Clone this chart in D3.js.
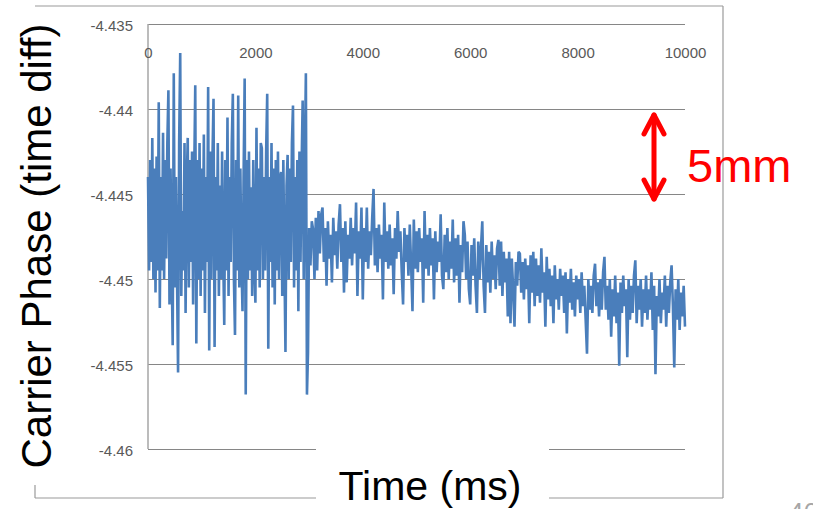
<!DOCTYPE html>
<html>
<head>
<meta charset="utf-8">
<script src="https://cdn.jsdelivr.net/npm/d3@7"></script>
<style>
  body { margin: 0; background: #fff; }
  svg { display: block; font-family: "Liberation Sans", Arial, sans-serif; }
</style>
</head>
<body>
<svg width="813" height="509"></svg>
<script>
// carrier phase, first 3 s (sampled every 20 ms)
const phaseEarly = [
  -4.4440, -4.4495, -4.4430, -4.4490, -4.4417, -4.4500, -4.4435, -4.4508, -4.4428, -4.4495,
  -4.4396, -4.4517, -4.4440, -4.4495, -4.4414, -4.4500, -4.4430, -4.4488, -4.4420, -4.4389,
  -4.4515, -4.4435, -4.4490, -4.4539, -4.4379, -4.4505, -4.4440, -4.4498, -4.4555, -4.4420,
  -4.4367, -4.4510, -4.4460, -4.4495, -4.4420, -4.4520, -4.4445, -4.4417, -4.4505, -4.4430,
  -4.4490, -4.4425, -4.4515, -4.4440, -4.4386, -4.4538, -4.4430, -4.4500, -4.4420, -4.4510,
  -4.4435, -4.4495, -4.4415, -4.4520, -4.4440, -4.4490, -4.4387, -4.4542, -4.4425, -4.4500,
  -4.4430, -4.4394, -4.4540, -4.4440, -4.4495, -4.4420, -4.4510, -4.4445, -4.4500, -4.4425,
  -4.4485, -4.4527, -4.4430, -4.4495, -4.4405, -4.4510, -4.4440, -4.4490, -4.4420, -4.4391,
  -4.4500, -4.4533, -4.4430, -4.4495, -4.4392, -4.4505, -4.4435, -4.4490, -4.4519, -4.4440,
  -4.4382, -4.4568, -4.4430, -4.4500, -4.4425, -4.4495, -4.4446, -4.4510, -4.4430, -4.4490,
  -4.4514, -4.4411, -4.4495, -4.4435, -4.4505, -4.4420, -4.4423, -4.4500, -4.4440, -4.4495,
  -4.4425, -4.4391, -4.4541, -4.4440, -4.4490, -4.4420, -4.4505, -4.4435, -4.4515, -4.4430,
  -4.4495, -4.4425, -4.4500, -4.4440, -4.4437, -4.4510, -4.4430, -4.4490, -4.4543, -4.4445,
  -4.4427, -4.4500, -4.4435, -4.4490, -4.4420, -4.4398, -4.4505, -4.4440, -4.4495, -4.4430,
  -4.4519, -4.4425, -4.4490, -4.4435, -4.4395, -4.4500, -4.4430, -4.4379, -4.4568, -4.4543
];
const earlyStart = 0;
const earlyStep = 20;

// carrier phase from 3 s to 10 s (sampled every 25 ms)
const phaseLate = [
  -4.4470, -4.4492, -4.4466, -4.4471, -4.4500, -4.4464, -4.4495, -4.4460, -4.4485, -4.4462,
  -4.4458, -4.4490, -4.4470, -4.4504, -4.4466, -4.4488, -4.4474, -4.4502, -4.4464, -4.4486,
  -4.4472, -4.4494, -4.4468, -4.4456, -4.4490, -4.4470, -4.4508, -4.4466, -4.4502, -4.4474,
  -4.4488, -4.4464, -4.4492, -4.4470, -4.4485, -4.4455, -4.4510, -4.4472, -4.4488, -4.4458,
  -4.4512, -4.4470, -4.4490, -4.4458, -4.4494, -4.4472, -4.4486, -4.4464, -4.4447, -4.4492,
  -4.4470, -4.4496, -4.4468, -4.4488, -4.4474, -4.4512, -4.4455, -4.4490, -4.4472, -4.4494,
  -4.4468, -4.4492, -4.4476, -4.4509, -4.4470, -4.4488, -4.4460, -4.4484, -4.4472, -4.4496,
  -4.4515, -4.4470, -4.4490, -4.4474, -4.4498, -4.4468, -4.4492, -4.4519, -4.4465, -4.4494,
  -4.4472, -4.4496, -4.4470, -4.4490, -4.4476, -4.4514, -4.4460, -4.4494, -4.4474, -4.4498,
  -4.4470, -4.4492, -4.4476, -4.4512, -4.4472, -4.4496, -4.4478, -4.4490, -4.4462, -4.4498,
  -4.4506, -4.4474, -4.4496, -4.4470, -4.4500, -4.4478, -4.4494, -4.4465, -4.4502, -4.4476,
  -4.4498, -4.4474, -4.4514, -4.4480, -4.4496, -4.4466, -4.4474, -4.4500, -4.4478, -4.4506,
  -4.4515, -4.4480, -4.4498, -4.4476, -4.4504, -4.4520, -4.4478, -4.4500, -4.4482, -4.4466,
  -4.4504, -4.4520, -4.4480, -4.4502, -4.4484, -4.4508, -4.4478, -4.4500, -4.4486, -4.4506,
  -4.4482, -4.4477, -4.4504, -4.4478, -4.4510, -4.4484, -4.4502, -4.4488, -4.4522, -4.4484,
  -4.4526, -4.4488, -4.4506, -4.4528, -4.4490, -4.4504, -4.4484, -4.4485, -4.4508, -4.4490,
  -4.4512, -4.4488, -4.4506, -4.4492, -4.4526, -4.4486, -4.4508, -4.4484, -4.4516, -4.4488,
  -4.4510, -4.4492, -4.4514, -4.4482, -4.4508, -4.4496, -4.4528, -4.4487, -4.4512, -4.4494,
  -4.4516, -4.4498, -4.4526, -4.4492, -4.4512, -4.4500, -4.4518, -4.4494, -4.4510, -4.4498,
  -4.4520, -4.4496, -4.4532, -4.4500, -4.4514, -4.4494, -4.4518, -4.4502, -4.4522, -4.4498,
  -4.4512, -4.4500, -4.4520, -4.4496, -4.4516, -4.4504, -4.4524, -4.4544, -4.4500, -4.4518,
  -4.4504, -4.4520, -4.4498, -4.4491, -4.4516, -4.4502, -4.4522, -4.4500, -4.4518, -4.4496,
  -4.4487, -4.4518, -4.4504, -4.4524, -4.4500, -4.4534, -4.4506, -4.4522, -4.4498, -4.4526,
  -4.4508, -4.4551, -4.4502, -4.4520, -4.4498, -4.4516, -4.4506, -4.4546, -4.4500, -4.4524,
  -4.4504, -4.4520, -4.4498, -4.4489, -4.4526, -4.4504, -4.4518, -4.4500, -4.4528, -4.4506,
  -4.4520, -4.4498, -4.4524, -4.4506, -4.4518, -4.4496, -4.4530, -4.4504, -4.4556, -4.4510,
  -4.4522, -4.4500, -4.4526, -4.4508, -4.4518, -4.4498, -4.4528, -4.4504, -4.4520, -4.4502,
  -4.4492, -4.4516, -4.4552, -4.4506, -4.4524, -4.4500, -4.4530, -4.4508, -4.4522, -4.4504, -4.4528
];
const lateStart = 3000;
const lateStep = 25;

const xTicks = [0, 2000, 4000, 6000, 8000, 10000];
const yTicks = [-4.435, -4.44, -4.445, -4.45, -4.455, -4.46];
const yTickLabels = ["-4.435", "-4.44", "-4.445", "-4.45", "-4.455", "-4.46"];

const svg = d3.select("svg");
const width = +svg.attr("width");
const height = +svg.attr("height");

svg.append("rect").attr("width", width).attr("height", height).attr("fill", "#fff");

const margin = { top: 24, right: 128, bottom: 60, left: 148 };
const innerWidth = width - margin.left - margin.right;
const innerHeight = height - margin.top - margin.bottom;

const data = phaseEarly
  .map((v, i) => ({ t: earlyStart + i * earlyStep, v }))
  .concat(phaseLate.map((v, i) => ({ t: lateStart + i * lateStep, v })));

const xScale = d3.scaleLinear().domain([0, 10000]).range([0, innerWidth]);
const yScale = d3.scaleLinear().domain([-4.46, -4.435]).range([innerHeight, 0]);

// outer chart frame
const frame = svg.append("g").attr("stroke", "#9a9a9a").attr("stroke-width", 1.2);
frame.append("line").attr("x1", 35).attr("x2", 723).attr("y1", 6).attr("y2", 6);
frame.append("line").attr("x1", 723).attr("x2", 723).attr("y1", 6).attr("y2", 498);
frame.append("line").attr("x1", 35).attr("x2", 723).attr("y1", 498).attr("y2", 498);
frame.append("line").attr("x1", 35).attr("x2", 35).attr("y1", 485).attr("y2", 498);

const g = svg.append("g").attr("transform", `translate(${margin.left},${margin.top})`);

const yAxis = d3
  .axisLeft(yScale)
  .tickValues(yTicks)
  .tickFormat((d, i) => yTickLabels[i])
  .tickSize(-innerWidth)
  .tickPadding(15);

const yAxisG = g.append("g").call(yAxis)
  .attr("font-size", 15)
  .attr("font-family", "Liberation Sans, Arial, sans-serif");
yAxisG.select(".domain").remove();
yAxisG.selectAll(".tick line").attr("stroke", "#868686");
yAxisG.selectAll(".tick text").attr("dy", "0.45em").attr("fill", "#595959");

g.append("line")
  .attr("x1", 0).attr("x2", 0)
  .attr("y1", 0).attr("y2", innerHeight)
  .attr("stroke", "#a6a6a6")
  .attr("stroke-width", 1.5);

const xAxis = d3
  .axisBottom(xScale)
  .tickValues(xTicks)
  .tickFormat(d3.format("d"))
  .tickSize(0)
  .tickPadding(23);
const xAxisG = g.append("g").call(xAxis)
  .attr("font-size", 15)
  .attr("font-family", "Liberation Sans, Arial, sans-serif");
xAxisG.select(".domain").remove();
xAxisG.selectAll(".tick text").attr("fill", "#595959");

const line = d3.line().x((d) => xScale(d.t)).y((d) => yScale(d.v));

g.append("path")
  .datum(data)
  .attr("fill", "none")
  .attr("stroke", "#4a7ebb")
  .attr("stroke-width", 2.6)
  .attr("stroke-linejoin", "bevel")
  .attr("d", line);

// axis titles on white boxes
svg.append("rect").attr("x", 316).attr("y", 447).attr("width", 233).attr("height", 62).attr("fill", "#fff");
svg.append("text")
  .attr("x", 430)
  .attr("y", 500)
  .attr("text-anchor", "middle")
  .attr("font-size", 41)
  .attr("fill", "#000")
  .text("Time (ms)");

svg.append("text")
  .attr("transform", `translate(51, 246) rotate(-90)`)
  .attr("text-anchor", "middle")
  .attr("font-size", 42)
  .attr("fill", "#000")
  .text("Carrier Phase (time diff)");

// 5mm marker
const arrow = svg.append("g")
  .attr("stroke", "#ff0000")
  .attr("stroke-width", 5)
  .attr("stroke-linecap", "round")
  .attr("stroke-linejoin", "round")
  .attr("fill", "none");
arrow.append("line").attr("x1", 654).attr("x2", 654).attr("y1", 115).attr("y2", 199);
arrow.append("path").attr("d", "M644,134L654,115L664,134");
arrow.append("path").attr("d", "M644,180L654,199L664,180");

svg.append("text")
  .attr("x", 687)
  .attr("y", 182)
  .attr("font-size", 47)
  .attr("fill", "#ff0000")
  .text("5mm");

svg.append("text")
  .attr("x", 789)
  .attr("y", 521)
  .attr("font-size", 26)
  .attr("fill", "#a6a6a6")
  .text("46");
</script>
</body>
</html>
